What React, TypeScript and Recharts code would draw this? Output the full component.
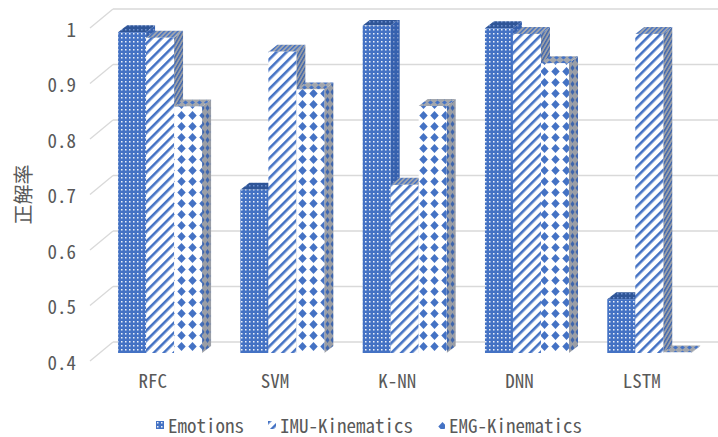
import React from "react";
import { BarChart, Bar, XAxis, YAxis, CartesianGrid, Legend } from "recharts";

const CATEGORIES = ["RFC", "SVM", "K-NN", "DNN", "LSTM"];
const EMOTIONS = [0.978, 0.694, 0.99, 0.985, 0.497];
const IMU_KINEMATICS = [0.968, 0.943, 0.703, 0.975, 0.975];
const EMG_KINEMATICS = [0.844, 0.875, 0.845, 0.922, 0.401];
const Y_TICKS = [0.4, 0.5, 0.6, 0.7, 0.8, 0.9, 1];
const SERIES = [
  { key: "Emotions", kind: "emo" },
  { key: "IMU-Kinematics", kind: "imu" },
  { key: "EMG-Kinematics", kind: "emg" },
];

const data = CATEGORIES.map((name, i) => ({
  name,
  Emotions: EMOTIONS[i],
  "IMU-Kinematics": IMU_KINEMATICS[i],
  "EMG-Kinematics": EMG_KINEMATICS[i],
}));

const FONT = "'Noto Sans Mono CJK JP', 'Noto Sans CJK JP', 'DejaVu Sans Mono', monospace";
const TEXT = "#595959";
const BLUE = "#4472C4";
const DX = 9; // depth of the bar tops
const DY = 7;

function Patterns() {
  return (
    <defs>
      <pattern id="emo" width="4" height="4" patternUnits="userSpaceOnUse">
        <rect width="4" height="4" fill={BLUE} />
        <rect x="1" y="1" width="1.5" height="1.5" fill="#ffffff" opacity="0.9" />
      </pattern>
      <pattern id="emo-top" width="4" height="4" patternUnits="userSpaceOnUse">
        <rect width="4" height="4" fill="#2f5597" />
        <rect x="1" y="1" width="1.5" height="1.5" fill="#6f90d0" />
      </pattern>
      <pattern id="emo-side" width="4" height="4" patternUnits="userSpaceOnUse">
        <rect width="4" height="4" fill="#3560ae" />
        <rect x="1" y="1" width="1.5" height="1.5" fill="#7c95c8" />
      </pattern>
      <pattern id="imu" width="7" height="7" patternUnits="userSpaceOnUse" patternTransform="rotate(45)">
        <rect width="7" height="7" fill="#ffffff" />
        <rect width="2.6" height="7" fill={BLUE} />
      </pattern>
      <pattern id="imu-top" width="3.2" height="3.2" patternUnits="userSpaceOnUse" patternTransform="rotate(45)">
        <rect width="3.2" height="3.2" fill="#a3a7ae" />
        <rect width="1.4" height="3.2" fill={BLUE} />
      </pattern>
      <pattern id="imu-side" width="3.2" height="3.2" patternUnits="userSpaceOnUse" patternTransform="rotate(30)">
        <rect width="3.2" height="3.2" fill="#9a9ea6" />
        <rect width="1.4" height="3.2" fill="#3f66ad" />
      </pattern>
      <pattern id="emg" width="11" height="11" patternUnits="userSpaceOnUse">
        <rect width="11" height="11" fill="#ffffff" />
        <polygon points="5.5,1 9.7,5.5 5.5,10 1.3,5.5" fill={BLUE} />
      </pattern>
      <pattern id="emg-top" width="7" height="5" patternUnits="userSpaceOnUse">
        <rect width="7" height="5" fill="#a3a7ae" />
        <polygon points="3.5,0.5 6,2.5 3.5,4.5 1,2.5" fill={BLUE} />
      </pattern>
      <pattern id="emg-side" width="5" height="8" patternUnits="userSpaceOnUse">
        <rect width="5" height="8" fill="#9a9ea6" />
        <polygon points="2.5,1 4.5,4 2.5,7 0.5,4" fill="#3f66ad" />
      </pattern>
    </defs>
  );
}

function Bar3D(props: any) {
  const { x, y, width, height, kind } = props;
  if (x == null || y == null) return null;
  const w = width;
  const h = Math.max(height, 0);
  const top = `${x},${y} ${x + DX},${y - DY} ${x + w + DX},${y - DY} ${x + w},${y}`;
  const side = `${x + w},${y} ${x + w + DX},${y - DY} ${x + w + DX},${y + h - DY} ${x + w},${y + h}`;
  return (
    <g>
      <polygon points={side} fill={`url(#${kind}-side)`} />
      <polygon points={top} fill={`url(#${kind}-top)`} />
      <rect x={x} y={y} width={w} height={h} fill={`url(#${kind})`} />
    </g>
  );
}

function GridLine(props: any) {
  const { x1, x2, y1 } = props;
  // front edge on the left wall, then the line along the back wall
  return (
    <g key={props.key}>
      <line x1={x1 - 8.5} y1={y1 + 8} x2={x1 + 14.5} y2={y1 - 11} stroke="#d9d9d9" strokeWidth={1.3} />
      <line x1={x1 + 14.5} y1={y1 - 11} x2={x2 + 10} y2={y1 - 11} stroke="#d9d9d9" strokeWidth={1.3} />
    </g>
  );
}

function YTick(props: any) {
  const { y, payload } = props;
  return (
    <text x={76} y={y + 8} textAnchor="end" dominantBaseline="central" fill={TEXT} fontSize={19} fontFamily={FONT}>
      {String(payload.value)}
    </text>
  );
}

function XTick(props: any) {
  const { x, y, payload } = props;
  return (
    <text x={x - 7} y={y + 26} textAnchor="middle" dominantBaseline="central" fill={TEXT} fontSize={19} fontFamily={FONT}>
      {payload.value}
    </text>
  );
}

function YLabel(props: any) {
  const vb = props.viewBox || {};
  const cx = vb.x - 16;
  const cy = vb.y + vb.height / 2 + 8;
  return (
    <text x={cx} y={cy} transform={`rotate(-90 ${cx} ${cy})`} textAnchor="middle" dominantBaseline="central" fill={TEXT} fontSize={20} fontFamily={FONT}>
      正解率
    </text>
  );
}

function LegendContent() {
  return (
    <div style={{ display: "flex", justifyContent: "center", gap: 24, paddingLeft: 20, paddingTop: 12, fontFamily: FONT, fontSize: 19, color: TEXT, lineHeight: "20px" }}>
      {SERIES.map((s) => (
        <div key={s.key} style={{ display: "flex", alignItems: "center" }}>
          <svg width={8} height={8} style={{ marginRight: 4 }}>
            <rect width={8} height={8} fill={`url(#${s.kind})`} />
          </svg>
          <span>{s.key}</span>
        </div>
      ))}
    </div>
  );
}

export default function App() {
  return (
    <div style={{ position: "absolute", left: 0, top: 0, width: 718, height: 437, background: "#ffffff" }}>
      <BarChart
        width={718}
        height={437}
        data={data}
        margin={{ top: 20, right: 8, left: 38.5, bottom: 0 }}
        barCategoryGap="16%"
        barGap={0}
      >
        <Patterns />
        <CartesianGrid vertical={false} horizontal={(p: any) => <GridLine {...p} />} />
        <XAxis dataKey="name" axisLine={false} tickLine={false} tickSize={0} tickMargin={0} height={50} tick={<XTick />} interval={0} />
        <YAxis
          domain={[0.4, 1]}
          ticks={Y_TICKS}
          width={60}
          axisLine={false}
          tickLine={false}
          tick={<YTick />}
          allowDataOverflow
          label={<YLabel />}
        />
        <Legend verticalAlign="bottom" height={34} content={<LegendContent />} wrapperStyle={{ left: 0, width: 718 }} />
        {SERIES.map((s) => (
          <Bar key={s.key} dataKey={s.key} isAnimationActive={false} shape={(p: any) => <Bar3D {...p} kind={s.kind} />} />
        ))}
      </BarChart>
    </div>
  );
}
